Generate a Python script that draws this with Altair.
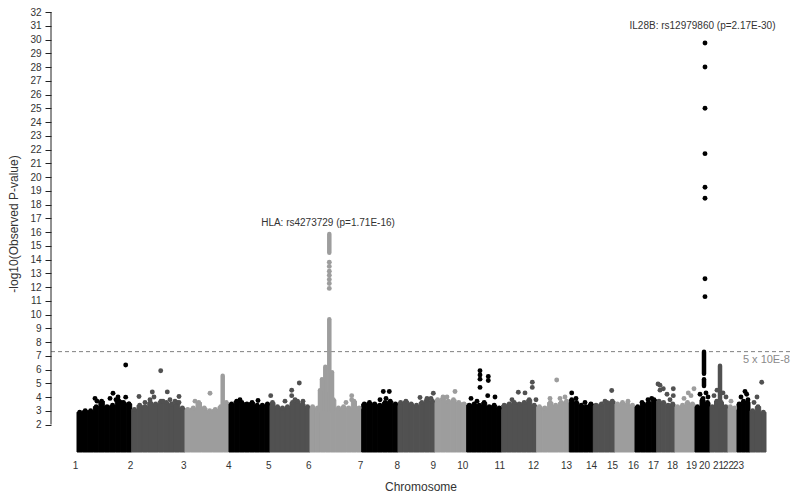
import altair as alt
import pandas as pd

# ---------------- data ----------------
# x in plot units (chr1 starts at 0), y = -log10(p)
chrom_start = [0, 54.7, 108, 152, 193, 233, 284.7, 321, 358, 389.7, 424.7, 459.7,
               492.3, 516.3, 538, 558, 579.7, 598, 618, 633, 651, 660, 673]
chrom_last_end = 689
label_pos = [-2, 53, 106.3, 151.3, 191.3, 231.3, 283, 319.7, 355.7, 385.3, 422.3, 456,
             489, 514, 535, 556, 576, 595, 614, 627, 641, 651, 661]
shade_colors = ["#000000", "#515151", "#9d9d9d"]

# upper edge of the dense mass of SNPs, several samples per chromosome
top_chr1 = [2.9, 3.0, 3.0, 3.3, 3.7, 3.3, 3.4, 3.8, 3.6, 3.5]
top_chr2 = [3.1, 3.4, 3.3, 3.6, 3.5, 3.7, 3.6, 3.5, 3.6, 3.2]
top_chr3 = [3.1, 3.2, 3.6, 3.2, 3.0, 3.1, 3.3, 3.6]
top_chr4 = [3.5, 3.7, 3.6, 3.5, 3.6, 3.4, 3.4, 3.5]
top_chr5 = [3.6, 3.3, 3.2, 3.3, 3.6, 3.7, 3.5, 3.3]
top_chr6 = [3.3, 3.2, 3.8, 4.2, 3.8, 3.2, 3.3, 3.2, 3.7, 3.2]
top_chr7 = [3.5, 3.6, 3.5, 3.4, 3.6, 3.7, 3.5]
top_chr8 = [3.6, 3.7, 3.5, 3.4, 3.6, 3.8, 3.7]
top_chr9 = [3.8, 3.9, 3.7, 3.8, 3.6, 3.5]
top_chr10 = [3.4, 3.5, 3.4, 3.6, 3.3, 3.4, 3.2]
top_chr11 = [3.4, 3.5, 3.6, 3.5, 3.6, 3.8, 3.4]
top_chr12 = [3.3, 3.2, 3.6, 3.4, 3.6, 3.7]
top_chr13 = [3.8, 3.6, 3.4, 3.3, 3.5]
top_chr14 = [3.4, 3.5, 3.6, 3.7]
top_chr15 = [3.5, 3.6, 3.5, 3.4]
top_chr16 = [3.3, 3.5, 3.6, 3.8]
top_chr17 = [3.7, 3.6, 3.4, 3.5]
top_chr18 = [3.3, 3.4, 3.6, 3.5]
top_chr19 = [3.3, 3.8, 3.6]
top_chr20 = [3.3, 3.7, 3.6, 3.3]
top_chr21 = [3.3, 3.2]
top_chr22 = [3.5, 3.7, 3.6]
top_chr23 = [3.0, 3.3, 2.9]

# individual SNPs standing out of the mass
pt_chrom = [1, 1, 1, 1, 1, 1, 1, 1, 1, 1,
            2, 2, 2, 2, 2, 2, 2, 2, 2, 2, 2, 2,
            3, 3, 4, 4,
            5, 5, 5, 5, 5, 5, 5,
            6, 6, 6,
            6, 6, 6, 6, 6, 6, 6,
            7, 7, 7, 7,
            8, 8, 8, 8,
            9, 9, 9,
            10, 10, 10, 10, 10, 10, 10, 10, 10, 10,
            11, 11, 11, 11, 11, 11,
            12, 12, 12, 12,
            13, 13, 13, 14, 14, 15, 16, 16, 16,
            17, 17, 17, 17, 17, 17, 17, 17,
            18, 18, 18, 18,
            19, 19, 19, 19,
            19, 19, 19, 19, 19, 19, 19, 19,
            20, 20, 20, 20, 21, 22, 22, 22, 22, 23, 23, 23]
pt_pos = [18, 20, 33, 36, 39, 41, 44, 48.7, 48.7, 52,
          62, 68, 73, 75.3, 77, 83.7, 86, 90.3, 93, 98, 102, 102,
          118, 133, 163, 181,
          193.7, 208, 214.7, 214.7, 218, 222.3, 226,
          269, 274.7, 274.7,
          252.3, 252.3, 252.3, 252.3, 252.3, 252.3, 252.3,
          303, 306.3, 309, 312.3,
          343, 350, 354, 356.3,
          366, 370, 378,
          394, 400, 403, 403, 403, 403, 411.3, 411.3, 410.7, 418,
          435, 441.3, 448, 455.3, 455.3, 459,
          473, 479.7, 483, 488,
          494.7, 499, 508, 528, 534.7, 551, 565, 571, 574.7,
          581, 583, 583, 586.3, 590, 593, 596.3, 596.3,
          607, 611.3, 614, 617,
          623, 626, 629, 631,
          628, 628, 628, 628, 628, 628, 628, 628,
          637, 640, 646, 649, 654, 664, 668, 669.7, 671, 677, 680, 684.7]
pt_val = [3.9, 3.7, 3.9, 4.27, 3.8, 4.0, 3.6, 6.33, 3.99, 3.5,
          4.04, 3.6, 3.8, 4.36, 4.0, 5.91, 3.7, 4.37, 3.8, 3.7, 4.04, 3.6,
          3.7, 4.27, 3.8, 3.75,
          4.1, 3.7, 4.49, 4.1, 3.8, 5.02, 3.7,
          3.6, 4.1, 3.8,
          11.9, 12.25, 12.55, 12.85, 13.15, 13.5, 13.8,
          3.8, 4.4, 3.9, 4.4,
          3.96, 3.9, 3.9, 4.27,
          4.0, 4.0, 4.4,
          3.9, 3.7, 5.91, 5.6, 5.3, 4.7, 5.5, 5.2, 4.1, 4.0,
          3.8, 4.35, 4.3, 5.07, 4.7, 3.8,
          3.9, 5.24, 3.9, 4.0,
          4.3, 3.9, 3.6, 3.7, 4.47, 3.7, 3.6, 3.8, 3.9,
          4.95, 4.85, 4.5, 4.6, 4.2, 3.8, 4.6, 4.1,
          3.9, 4.3, 4.1, 4.6,
          4.2, 3.9, 4.3, 4.0,
          29.75, 28.0, 25.0, 21.7, 19.25, 18.45, 12.6, 11.3,
          4.1, 4.5, 4.3, 4.0, 3.7, 4.0, 4.4, 4.2, 3.8, 3.6, 4.0, 5.07]

# runs of overlapping SNPs that read as solid columns
col_chrom = [3, 6, 6, 6, 6, 6, 6, 19, 19, 20]
col_pos = [145.7, 252.3, 252.3, 248.3, 245, 255, 243, 627, 627, 643]
col_lo = [3.3, 3.0, 14.5, 3.0, 3.0, 3.0, 3.0, 5.7, 4.8, 3.3]
col_hi = [5.55, 9.65, 15.85, 6.2, 5.3, 5.8, 4.5, 7.3, 5.3, 6.28]

gw_threshold = 7.3  # -log10(5e-8)
ann_text = ["HLA: rs4273729 (p=1.71E-16)", "IL28B: rs12979860 (p=2.17E-30)"]
ann_x = [251, 625.5]
ann_y = [16.62, 31.0]

# ---------------- build tables ----------------
top_all = [top_chr1, top_chr2, top_chr3, top_chr4, top_chr5, top_chr6, top_chr7,
           top_chr8, top_chr9, top_chr10, top_chr11, top_chr12, top_chr13, top_chr14,
           top_chr15, top_chr16, top_chr17, top_chr18, top_chr19, top_chr20,
           top_chr21, top_chr22, top_chr23]
chrom_end = chrom_start[1:] + [chrom_last_end]

rows = []
for i, tops in enumerate(top_all):
    w = (chrom_end[i] - chrom_start[i]) / len(tops)
    for j, t in enumerate(tops):
        x0 = chrom_start[i] + j * w
        rows.append(dict(x=x0, x2=x0 + w, xc=x0 + w / 2, y=0, top=t,
                         color=shade_colors[i % 3]))
mass = pd.DataFrame(rows)

pts = pd.DataFrame(dict(x=pt_pos, y=pt_val,
                        color=[shade_colors[(c - 1) % 3] for c in pt_chrom]))
cols = pd.DataFrame(dict(x=col_pos, lo=col_lo, hi=col_hi,
                         color=[shade_colors[(c - 1) % 3] for c in col_chrom]))
ann = pd.DataFrame(dict(x=ann_x, y=ann_y, text=ann_text))

FONT = "Liberation Sans"
xscale = alt.Scale(domain=[-26, 713], nice=False, zero=False)
yscale = alt.Scale(domain=[0, 32], nice=False, zero=False)

label_expr = "indexof(" + str(label_pos) + ", datum.value) + 1"
X = alt.X("x:Q", scale=xscale,
          axis=alt.Axis(values=label_pos, tickCount=200, labelExpr=label_expr,
                        title="Chromosome",
                        domain=False, ticks=False, grid=False, labelFlush=False,
                        labelOverlap=False, labelPadding=8, labelFontSize=10,
                        labelColor="#333333", labelFont=FONT, titleFont=FONT,
                        titleFontSize=12, titleFontWeight="normal", titleColor="#333333",
                        titleBaseline="middle", titleY=34))
Y = alt.Y("y:Q", scale=yscale,
          axis=alt.Axis(values=list(range(2, 33)), tickCount=200, format="d",
                        title="-log10(Observed P-value)",
                        domain=False, grid=False, tickSize=6, tickColor="#222222",
                        labelOverlap=False, labelFlush=False,
                        labelFontSize=10, labelColor="#333333", labelFont=FONT,
                        labelPadding=4,
                        titleFont=FONT, titleFontSize=12, titleFontWeight="normal",
                        titleColor="#333333", titleX=-38, titleY=211.5,
                        titleBaseline="middle", titleAlign="center", titleAngle=-90))
XN = lambda f: alt.X(f, scale=xscale)
YN = lambda f: alt.Y(f, scale=yscale)

base_mass = alt.Chart(mass)
rects = base_mass.mark_rect(strokeWidth=1).encode(
    x=X, x2="x2:Q", y=Y, y2="top:Q",
    fill=alt.Color("color:N", scale=None), stroke=alt.Color("color:N", scale=None))
bumps = base_mass.mark_circle(size=24, opacity=1).encode(
    x=XN("xc:Q"), y=YN("top:Q"), color=alt.Color("color:N", scale=None))

thr = alt.Chart(pd.DataFrame(dict(y=[gw_threshold]))).mark_rule(
    color="#808080", strokeDash=[4, 3], strokeWidth=1).encode(y=YN("y:Q"))

columns = alt.Chart(cols).mark_rule(strokeWidth=4.5, strokeCap="round").encode(
    x=XN("x:Q"), y=YN("lo:Q"), y2="hi:Q", color=alt.Color("color:N", scale=None))

points = alt.Chart(pts).mark_circle(size=24, opacity=1).encode(
    x=XN("x:Q"), y=YN("y:Q"), color=alt.Color("color:N", scale=None))

yaxis_line = alt.Chart(pd.DataFrame(dict(a=[2], b=[32]))).mark_rule(
    color="#222222", strokeWidth=1).encode(x=alt.value(0), y=YN("a:Q"), y2="b:Q")

labels = alt.Chart(ann).mark_text(font=FONT, fontSize=10, color="#333333",
                                  baseline="middle", align="center").encode(
    x=XN("x:Q"), y=YN("y:Q"), text="text:N")

thr_label = alt.Chart(pd.DataFrame(dict(y=[gw_threshold], t=["5 x 10E-8"]))).mark_text(
    font=FONT, fontSize=11, color="#8a8a8a", align="right", baseline="middle", dy=8).encode(
    x=alt.value(739), y=YN("y:Q"), text="t:N")

chart = alt.layer(rects, bumps, thr, columns, points, yaxis_line, labels, thr_label).properties(
    width=739, height=440,
    autosize=alt.AutoSizeParams(type="none"),
    padding={"left": 43, "top": 4, "right": 2, "bottom": 45},
    background="white",
).configure_view(stroke=None).configure_axis(labelOverlap=False)

chart.save("out.html", embed_options={"renderer": "svg", "actions": False})
